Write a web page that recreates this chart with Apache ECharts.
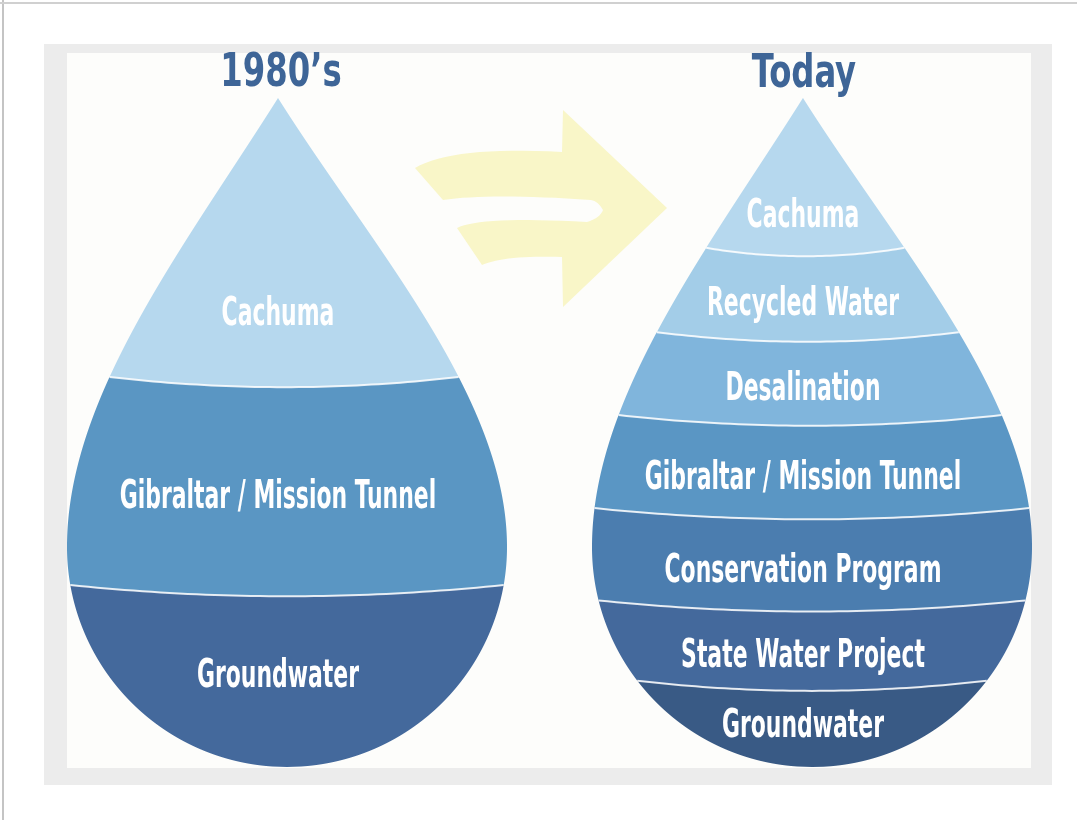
<!DOCTYPE html>
<html><head><meta charset="utf-8">
<script src="https://cdn.jsdelivr.net/npm/echarts@6/dist/echarts.min.js"></script>
<style>html,body{margin:0;padding:0;background:#fff;}#c{width:1077px;height:820px;}</style>
</head><body><div id="c"></div>
<script>
// ---- data ----
const titles = ["1980\u2019s", "Today"];
const layers1980 = ["Cachuma", "Gibraltar / Mission Tunnel", "Groundwater"];
const shares1980 = [41.7, 31.1, 27.2];
const layersToday = ["Cachuma", "Recycled Water", "Desalination", "Gibraltar / Mission Tunnel",
  "Conservation Program", "State Water Project", "Groundwater"];
const sharesToday = [22.4, 12.6, 12.4, 13.9, 13.8, 12.0, 12.9];

// ---- styles ----
const colors1980 = ["#b6d8ee", "#5a96c3", "#44699c"];
const colorsToday = ["#b6d8ee", "#a3cde8", "#80b5dc", "#5a96c4", "#4b7daf", "#44699c", "#395a85"];
const LABEL_FONT = "'DejaVu Sans Condensed','Liberation Sans Narrow',sans-serif";
const TIP_SHIFT = 9;

function cumulate(shares) { let s = 0; return shares.map((v, i) => { const a = s; s += v; return [a, s, i]; }); }

// arrow outline: sequence of L (line) and Q (quadratic) segments
const arrowSegs = [
  ['M', 415, 168], ['Q', 452, 146, 562, 152], ['L', 563, 110], ['L', 667, 208], ['L', 563, 307],
  ['L', 562, 257], ['Q', 505, 255, 482, 265], ['L', 457, 228], ['Q', 480, 216, 587, 222],
  ['Q', 600, 218, 603, 210], ['Q', 598, 201, 591, 200], ['Q', 490, 193, 443, 200]
];
function segsToPoints(segs) {
  const pts = []; let cur = null;
  segs.forEach(s => {
    if (s[0] === 'M' || s[0] === 'L') { cur = [s[1], s[2]]; pts.push(cur); }
    else {
      const c = [s[1], s[2]], e = [s[3], s[4]], p0 = cur;
      for (let k = 1; k <= 16; k++) {
        const t = k / 16, m = 1 - t;
        pts.push([m*m*p0[0] + 2*m*t*c[0] + t*t*e[0], m*m*p0[1] + 2*m*t*c[1] + t*t*e[1]]);
      }
      cur = e;
    }
  });
  return pts;
}

function makeRender(names, colors) {
  const n = names.length;
  return function (params, api) {
    const i = params.dataIndex;
    const start = api.value(0), end = api.value(1);
    const pTop = api.coord([0, 0]), pBot = api.coord([0, 100]);
    const xl = api.coord([-1, 0])[0], xr = api.coord([1, 0])[0];
    const cx = (xl + xr) / 2, r = (xr - xl) / 2, tipY = pTop[1], botY = pBot[1];
    const cy = botY - r, tipX = cx - TIP_SHIFT, H = cy - tipY;
    function side(sgn) {
      const P0 = [tipX, tipY], P1 = [tipX + sgn * 0.43 * r, tipY + 0.334 * H],
            P2 = [cx + sgn * r, cy - 0.334 * H], P3 = [cx + sgn * r, cy];
      const pts = [];
      for (let k = 0; k <= 300; k++) {
        const s = k / 300, m = 1 - s;
        pts.push([m*m*m*P0[0] + 3*m*m*s*P1[0] + 3*m*s*s*P2[0] + s*s*s*P3[0],
                  m*m*m*P0[1] + 3*m*m*s*P1[1] + 3*m*s*s*P2[1] + s*s*s*P3[1]]);
      }
      return pts;
    }
    const Ls = side(-1), Rs = side(1);
    function edgeX(samples, sgn, y) {
      if (y >= cy) { const d = y - cy; return cx + sgn * Math.sqrt(Math.max(0, r * r - d * d)); }
      if (y <= tipY) return tipX;
      for (let k = 1; k < samples.length; k++) {
        if (samples[k][1] >= y) {
          const a = samples[k - 1], b = samples[k];
          const t = (y - a[1]) / ((b[1] - a[1]) || 1);
          return a[0] + (b[0] - a[0]) * t;
        }
      }
      return cx + sgn * r;
    }
    const xL = y => edgeX(Ls, -1, y), xR = y => edgeX(Rs, 1, y);
    const yT = api.coord([0, start])[1], yB = api.coord([0, end])[1];
    const first = i === 0, last = i === n - 1;
    const sagOf = y => 6 + 0.012 * (xR(y) - xL(y));
    function arc(y, ltr) {
      const a = xL(y), b = xR(y), sag = sagOf(y), pts = [];
      for (let k = 0; k <= 48; k++) {
        const u = ltr ? k / 48 : 1 - k / 48;
        pts.push([a + (b - a) * u, y + sag * 4 * u * (1 - u)]);
      }
      return pts;
    }
    const poly = [];
    if (first) poly.push([tipX, tipY]); else poly.push(...arc(yT, true));
    for (let y = yT; y <= yB; y += 0.5) poly.push([xR(y), y]);
    if (last) poly.push([xR(yB), yB]); else poly.push(...arc(yB, false));
    for (let y = yB; y >= yT; y -= 0.5) poly.push([xL(y), y]);

    let ly;
    if (first) ly = tipY + 0.75 * (yB + sagOf(yB) - tipY);
    else if (last) ly = yT + sagOf(yT) + 0.47 * (botY - yT - sagOf(yT));
    else ly = (yT + sagOf(yT) + yB + sagOf(yB)) / 2 + 6;

    const children = [{
      type: 'polygon', shape: { points: poly },
      style: { fill: colors[i] }
    }];
    if (!first) children.push({
      type: 'polyline', shape: { points: arc(yT, true) },
      style: { stroke: 'rgba(255,255,255,0.85)', lineWidth: 2, fill: null }
    });
    children.push({
      type: 'text', x: tipX, y: ly, scaleX: 0.625, scaleY: 1,
      style: {
        text: names[i], fill: '#ffffff', fontSize: 39, fontWeight: 'bold', fontFamily: LABEL_FONT,
        align: 'center', verticalAlign: 'middle'
      }
    });
    return { type: 'group', children };
  };
}

const chart = echarts.init(document.getElementById('c'), null, { renderer: 'canvas' });
const option = {
  backgroundColor: '#ffffff',
  animation: false,
  grid: [
    { left: 67, top: 98, width: 440, height: 669 },
    { left: 592, top: 98, width: 440, height: 669 }
  ],
  xAxis: [
    { gridIndex: 0, type: 'value', min: -1, max: 1, show: false },
    { gridIndex: 1, type: 'value', min: -1, max: 1, show: false }
  ],
  yAxis: [
    { gridIndex: 0, type: 'value', min: 0, max: 100, inverse: true, show: false },
    { gridIndex: 1, type: 'value', min: 0, max: 100, inverse: true, show: false }
  ],
  graphic: [
    { type: 'line', shape: { x1: 3, y1: 0, x2: 3, y2: 820 }, style: { stroke: '#c4c4c4', lineWidth: 2 }, z: -10 },
    { type: 'line', shape: { x1: 0, y1: 3, x2: 1077, y2: 3 }, style: { stroke: '#d0d0d0', lineWidth: 2 }, z: -10 },
    { type: 'rect', shape: { x: 44, y: 44, width: 1008, height: 741 }, style: { fill: '#ececec' }, z: -10 },
    { type: 'rect', shape: { x: 67, y: 53, width: 964, height: 715 }, style: { fill: '#fdfdfb' }, z: -9 },
    { type: 'polygon', z: -8, shape: { points: segsToPoints(arrowSegs) }, style: { fill: '#f9f6c8' } },
    {
      type: 'text', x: 281, y: 74, z: 5, scaleX: 0.78,
      style: { text: titles[0], fill: '#3e6597', fontSize: 46, fontWeight: 'bold', fontFamily: LABEL_FONT, align: 'center', verticalAlign: 'middle' }
    },
    {
      type: 'text', x: 804, y: 75, z: 5, scaleX: 0.78,
      style: { text: titles[1], fill: '#3e6597', fontSize: 46, fontWeight: 'bold', fontFamily: LABEL_FONT, align: 'center', verticalAlign: 'middle' }
    }
  ],
  series: [
    {
      type: 'custom', name: titles[0], xAxisIndex: 0, yAxisIndex: 0, clip: false,
      data: cumulate(shares1980), renderItem: makeRender(layers1980, colors1980)
    },
    {
      type: 'custom', name: titles[1], xAxisIndex: 1, yAxisIndex: 1, clip: false,
      data: cumulate(sharesToday), renderItem: makeRender(layersToday, colorsToday)
    }
  ]
};
chart.setOption(option);
</script>
</body></html>
